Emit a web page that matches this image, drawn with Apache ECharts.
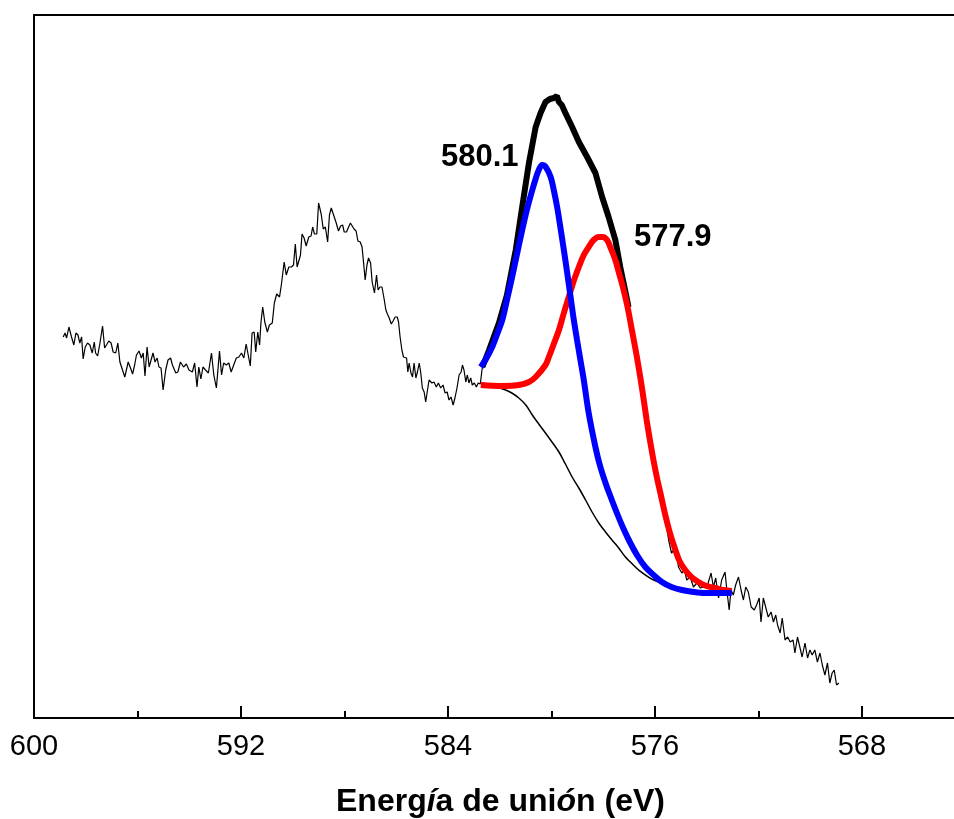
<!DOCTYPE html>
<html>
<head>
<meta charset="utf-8">
<script src="https://cdn.jsdelivr.net/npm/echarts@6/dist/echarts.min.js"></script>
<style>
  html, body { margin: 0; padding: 0; background: #fff; }
  #chart { width: 954px; height: 819px; }
</style>
</head>
<body>
<div id="chart"></div>
<script>
// binding energy (eV) and counts (a.u.)
const scanLeftEV = [598.87,598.80,598.74,598.65,598.55,598.46,598.38,598.30,598.23,598.16,598.10,598.02,597.93,597.84,597.75,597.67,597.62,597.54,597.45,597.35,597.27,597.20,597.11,597.02,596.94,596.84,596.76,596.68,596.61,596.49,596.36,596.27,596.19,596.11,596.04,595.94,595.85,595.78,595.71,595.63,595.55,595.48,595.40,595.32,595.24,595.17,595.09,595.01,594.91,594.82,594.72,594.65,594.59,594.52,594.44,594.34,
  594.22,594.11,594.01,593.88,593.79,593.70,593.63,593.55,593.47,593.37,593.26,593.14,593.05,592.95,592.89,592.83,592.75,592.67,592.57,592.47,592.38,592.28,592.18,592.08,591.98,591.89,591.80,591.72,591.64,591.57,591.49,591.43,591.35,591.28,591.23,591.16,591.08,590.98,590.90,590.79,590.71,590.62,590.51,590.44,590.33,590.25,590.15,590.05,589.97,589.90,589.83,589.77,589.70,589.64,
  589.56,589.48,589.38,589.29,589.23,589.16,589.07,589.00,588.90,588.82,588.74,588.65,588.58,588.51,588.42,588.33,588.28,588.23,588.15,588.07,588.01,587.92,587.84,587.77,587.71,587.63,587.55,587.48,587.39,587.32,587.26,587.20,587.13,587.07,586.99,586.93,586.84,586.76,586.70,586.63,586.55,586.46,586.40,586.34,586.27,586.19,586.12,586.04,585.96,585.91,585.85,585.78,585.72,585.65,585.60,585.55,585.50,585.43,585.37,585.31,585.24,585.18,585.11,
  585.05,584.99,584.92,584.86,584.79,584.73,584.62,584.54,584.45,584.37,584.28,584.19,584.11,584.03,583.96,583.88,583.80,583.73,583.65,583.57,583.49,583.44,583.38,583.31,583.25,583.19,583.12,583.06,582.98,582.90,582.83,582.75];
const scanLeftCounts = [381,385,380,391,381,373,385,383,375,381,359,371,375,373,365,376,365,362,375,392,370,373,377,375,366,365,375,356,358,341,356,350,344,353,363,367,360,365,342,371,351,353,365,356,360,351,350,328,348,358,360,353,355,345,346,356,
  351,354,348,346,355,331,351,339,351,348,345,365,343,330,330,367,343,355,353,355,346,353,360,361,365,360,374,363,352,385,386,366,386,373,395,411,396,386,393,395,415,424,421,433,456,443,451,451,453,474,451,452,463,484,
  480,472,481,482,491,484,484,515,504,489,491,476,503,510,503,496,495,487,492,493,486,486,491,495,494,489,487,477,476,471,455,438,453,460,455,436,425,443,428,431,431,418,408,404,400,394,397,401,401,396,381,368,361,362,360,346,355,345,341,355,340,346,355,
  345,330,326,316,328,338,335,336,331,335,330,333,325,326,318,321,313,320,330,343,346,353,348,336,343,335,340,333,335,331,335,334];

// thick trace over the fitted window
const fitWindowEV = [582.67,582.41,582.03,581.72,581.38,581.13,580.87,580.61,580.42,580.23,580.06,579.91,579.79,579.71,579.60,579.46,579.20,578.94,578.62,578.30,578.04,577.79,577.53,577.34,577.17,577.02];
const fitWindowCounts = [351,368,395,423,468,511,555,591,605,616,619,620,622,616,613,605,591,576,561,545,521,501,478,451,430,411];

const scanRightEV = [576.63,576.24,575.86,575.67,575.47,575.36,575.20,575.09,574.96,574.86,574.77,574.64,574.51,574.38,574.25,574.12,574.00,573.83,573.74,573.65,573.54,573.42,573.29,573.22,573.13,573.06,572.97,572.88,572.77,572.67,572.58,572.49,572.39,572.28,572.16,572.07,571.97,571.90,571.81,571.72,571.62,571.51,571.42,571.33,571.26,571.16,571.08,570.97,570.87,570.77,570.66,570.59,570.49,570.39,570.31,570.20,570.10,570.01,569.92,569.82,569.72,569.62,569.53,569.43,569.33,569.24,569.15,569.07,568.98,568.89];
const scanRightCounts = [346,288,228,210,178,165,170,151,145,148,138,141,131,135,130,131,130,145,131,140,120,138,146,128,108,128,123,133,141,128,118,131,126,111,108,113,120,96,120,111,101,106,96,103,93,85,100,78,81,76,78,65,81,70,61,75,60,68,63,68,56,65,53,43,55,35,45,48,33,35];

// component 580.1 eV (blue)
const peak1EV = [582.73,582.53,582.29,582.11,581.90,581.72,581.52,581.33,581.13,580.95,580.74,580.60,580.49,580.36,580.22,580.03,579.91,579.78,579.65,579.52,579.39,579.26,579.14,579.01,578.88,578.75,578.56,578.30,578.13,577.91,577.71,577.47,577.21,576.95,576.67,576.37,576.05,575.73,575.36,574.96,574.51,574.06,573.54,573.03];
const peak1Counts = [351,359,371,383,398,418,441,464,488,508,528,540,548,553,551,541,528,511,490,468,445,421,399,378,358,338,305,271,253,235,221,205,189,175,162,151,143,136,131,128,126,125,125,125];

// component 577.9 eV (red)
const peak2EV = [582.73,581.90,581.26,580.87,580.61,580.23,580.10,579.91,579.71,579.52,579.33,579.14,578.94,578.75,578.56,578.37,578.17,578.02,577.85,577.71,577.53,577.40,577.21,577.05,576.89,576.69,576.50,576.32,576.18,576.05,575.92,575.78,575.60,575.43,575.21,575.05,574.83,574.59,574.32,574.01,573.67,573.35,573.03];
const peak2Counts = [333,332,333,336,341,353,361,374,388,405,421,437,451,463,471,478,481,481,478,470,458,446,428,410,388,360,330,298,276,257,240,224,203,186,168,157,148,141,136,132,130,128,127];

// background
const bgEV = [582.68,582.22,581.77,581.53,581.26,580.99,580.74,580.49,580.23,579.98,579.71,579.46,579.20,578.94,578.68,578.43,578.17,577.91,577.66,577.40,577.14,576.95,576.63,576.05,575.28,574.32,573.04];
const bgCounts = [335,332,328,325,320,313,303,294,285,276,266,254,241,230,218,206,195,186,178,170,161,156,148,138,131,127,125];

// axis range and ticks
const xRange = [564.44, 600];
const majorTicks = [600, 592, 584, 576, 568];
const minorTicks = [596, 588, 580, 572];
const peakLabels = ['580.1', '577.9'];

const pairs = (ev, c) => ev.map((e, i) => [e, c[i]]);
const scan = pairs(scanLeftEV, scanLeftCounts)
  .concat(pairs(fitWindowEV, fitWindowCounts))
  .concat(pairs(scanRightEV, scanRightCounts));

const chart = echarts.init(document.getElementById('chart'), null, {renderer: 'canvas'});
const font = 'Liberation Sans, Arial, sans-serif';
const fitLine = (data, color) => ({
  type: 'line', data: data, showSymbol: false, smooth: 0.35,
  lineStyle: {color: color, width: 6}
});

chart.setOption({
  animation: false,
  backgroundColor: '#fff',
  grid: {left: 34, top: 15, right: 0, bottom: 101},
  title: {
    text: '{a|Energ}{b|í}{a|a de uni}{b|ó}{a|n (eV)}',
    left: 331, top: 781,
    textStyle: {
      rich: {
        a: {fontFamily: font, fontSize: 32, fontWeight: 'bold', color: '#000'},
        b: {fontFamily: font, fontSize: 32, fontWeight: 'bold', fontStyle: 'italic', color: '#000'}
      }
    }
  },
  xAxis: [{
    type: 'value', inverse: true,
    min: xRange[0], max: xRange[1],
    axisLine: {lineStyle: {color: '#000', width: 2}},
    axisTick: {inside: true, length: 12, customValues: majorTicks, lineStyle: {color: '#000', width: 2}},
    splitLine: {show: false},
    axisLabel: {color: '#000', fontFamily: font, fontSize: 29, margin: 14, customValues: majorTicks}
  }, {
    type: 'value', inverse: true, position: 'bottom',
    min: xRange[0], max: xRange[1],
    axisLine: {show: false},
    axisTick: {inside: true, length: 7, customValues: minorTicks, lineStyle: {color: '#000', width: 2}},
    splitLine: {show: false},
    axisLabel: {show: false}
  }, {
    type: 'value', inverse: true, position: 'top',
    min: xRange[0], max: xRange[1],
    axisLine: {show: true, lineStyle: {color: '#000', width: 2}},
    axisTick: {show: false}, splitLine: {show: false}, axisLabel: {show: false}
  }],
  yAxis: {
    type: 'value', min: 0, max: 703,
    axisLine: {show: true, lineStyle: {color: '#000', width: 2}},
    axisTick: {show: false}, axisLabel: {show: false}, splitLine: {show: false}
  },
  graphic: [
    {type: 'text', left: 441, top: 142, style: {text: peakLabels[0], font: 'bold 31px ' + font, fill: '#000'}},
    {type: 'text', left: 634, top: 222, style: {text: peakLabels[1], font: 'bold 31px ' + font, fill: '#000'}}
  ],
  series: [
    {type: 'line', data: scan, showSymbol: false, lineStyle: {color: '#000', width: 1.2}},
    {type: 'line', data: pairs(bgEV, bgCounts), showSymbol: false, smooth: 0.35, lineStyle: {color: '#000', width: 1.5}},
    {type: 'line', data: pairs(fitWindowEV, fitWindowCounts), showSymbol: false, lineStyle: {color: '#000', width: 6}},
    fitLine(pairs(peak2EV, peak2Counts), '#ff0000'),
    fitLine(pairs(peak1EV, peak1Counts), '#0000ff')
  ]
});
</script>
</body>
</html>
